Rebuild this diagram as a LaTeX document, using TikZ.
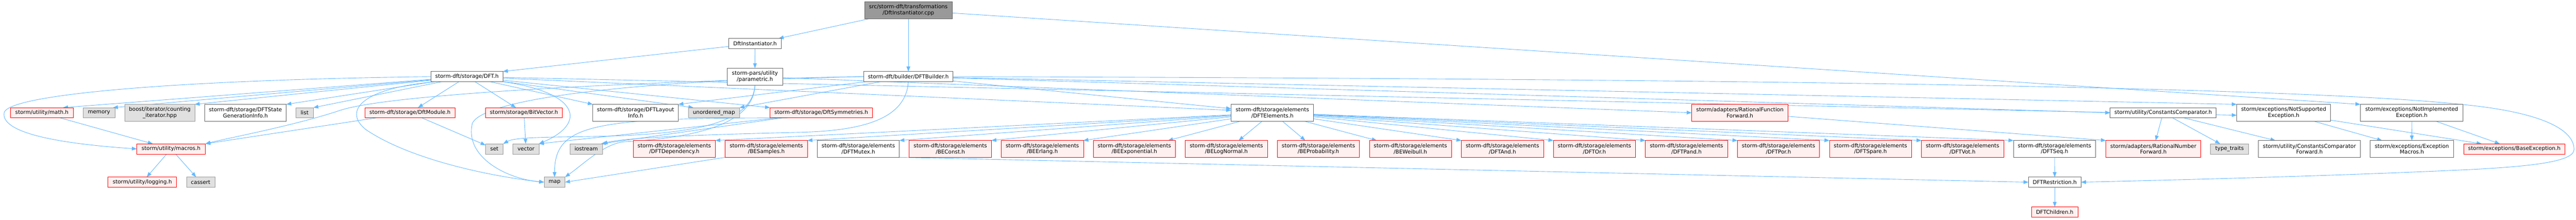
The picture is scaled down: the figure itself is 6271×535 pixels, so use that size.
\documentclass[tikz,border=0pt]{standalone}
\usepackage{fontspec}
\newfontfamily\dvs{DejaVu Sans}
\usetikzlibrary{arrows.meta}
\definecolor{edgec}{HTML}{63B8FF}
\definecolor{rfill}{HTML}{FFF0F0}
\definecolor{gfill}{HTML}{E0E0E0}
\definecolor{gdraw}{HTML}{999999}
\definecolor{wdraw}{HTML}{666666}
\definecolor{rootfill}{HTML}{999999}
\pgfdeclarelayer{bg}
\pgfsetlayers{bg,main}
\begin{document}
\begin{tikzpicture}[x=1pt,y=-1pt,
  box/.style={inner sep=0pt, outer sep=0pt, line width=1pt, align=center,
    font=\dvs\fontsize{13pt}{14.7pt}\selectfont},
  rnode/.style={box, fill=rfill, draw=red},
  gnode/.style={box, fill=gfill, draw=gdraw},
  wnode/.style={box, fill=white, draw=wdraw},
  rootnode/.style={box, fill=rootfill, draw=wdraw},
  one/.style={minimum height=25pt},
  two/.style={minimum height=41pt},
  conn/.style={draw=edgec, line width=1.1pt, -{Triangle[length=12pt,width=9pt]}}
]
\useasboundingbox (0,0) rectangle (6271,535);

% ---------- nodes ----------
\node[rootnode, two, minimum width=213pt] (root) at (2211.3,25) {src/storm-dft/transformations\\/DftInstantiator.cpp};
\node[wnode, one, minimum width=127pt] (dih) at (1838,106) {DftInstantiator.h};
\node[wnode, one, minimum width=175pt] (dft) at (1136.75,186.5) {storm-dft/storage/DFT.h};
\node[wnode, two, minimum width=136pt] (par) at (1837.8,186.5) {storm-pars/utility\\/parametric.h};
\node[wnode, one, minimum width=217pt] (bld) at (2211.3,186.5) {storm-dft/builder/DFTBuilder.h};

\node[rnode, one, minimum width=153pt] (math) at (102,274.5) {storm/utility/math.h};
\node[gnode, one, minimum width=78pt] (mem) at (241,274.5) {memory};
\node[gnode, two, minimum width=170pt] (cit) at (389,274.5) {boost/iterator/counting\\\_iterator.hpp};
\node[wnode, two, minimum width=199pt] (sgi) at (597.5,274.5) {storm-dft/storage/DFTState\\GenerationInfo.h};
\node[gnode, one, minimum width=43pt] (lst) at (741.5,274.5) {list};
\node[rnode, one, minimum width=220pt] (dmod) at (998,274.5) {storm-dft/storage/DftModule.h};
\node[rnode, one, minimum width=187pt] (bv) at (1275.5,274.5) {storm/storage/BitVector.h};
\node[wnode, two, minimum width=208.5pt] (lay) at (1547.25,274.5) {storm-dft/storage/DFTLayout\\Info.h};
\node[gnode, one, minimum width=124pt] (umap) at (1738,274.5) {unordered\_map};
\node[rnode, one, minimum width=249.5pt] (sym) at (1999.25,274.5) {storm-dft/storage/DftSymmetries.h};
\node[wnode, two, minimum width=201pt] (elem) at (3097.5,274.5) {storm-dft/storage/elements\\/DFTElements.h};
\node[rnode, two, minimum width=235pt] (rff) at (4235.5,274.5) {storm/adapters/RationalFunction\\Forward.h};
\node[wnode, one, minimum width=258pt] (cc) at (5266,274.5) {storm/utility/ConstantsComparator.h};
\node[wnode, two, minimum width=228.6pt] (nsup) at (5559.3,274.5) {storm/exceptions/NotSupported\\Exception.h};
\node[wnode, two, minimum width=250pt] (nimp) at (5871,274.5) {storm/exceptions/NotImplemented\\Exception.h};

\node[rnode, one, minimum width=167pt] (mac) at (416.5,362.5) {storm/utility/macros.h};
\node[gnode, one, minimum width=43pt] (nset) at (1203.5,362.5) {set};
\node[gnode, one, minimum width=63pt] (vec) at (1280.5,362.5) {vector};
\node[gnode, one, minimum width=80pt] (ios) at (1427,362.5) {iostream};
\foreach \nm/\xx/\lab in {dep/1641.5/DFTDependency, bes/1865.5/BESamples, bec/2313.5/BEConst,
  ber/2537.5/BEErlang, bex/2761.5/BEExponential, bln/2985.5/BELogNormal, bpr/3209.5/BEProbability,
  bwe/3433.5/BEWeibull, dand/3657.5/DFTAnd, dor/3881.5/DFTOr, dpand/4105.5/DFTPand,
  dpor/4329.5/DFTPor, dspa/4553.5/DFTSpare, dvot/4777.5/DFTVot}
  {\node[rnode, two, minimum width=200pt] (\nm) at (\xx,362.5) {storm-dft/storage/elements\\/\lab.h};}
\node[wnode, two, minimum width=200pt] (mtx) at (2089.5,362.5) {storm-dft/storage/elements\\/DFTMutex.h};
\node[wnode, two, minimum width=200pt] (dseq) at (5001.5,362.5) {storm-dft/storage/elements\\/DFTSeq.h};
\node[rnode, two, minimum width=231pt] (rnf) at (5242,362.5) {storm/adapters/RationalNumber\\Forward.h};
\node[gnode, one, minimum width=92pt] (tt) at (5427.5,362.5) {type\_traits};
\node[wnode, two, minimum width=248pt] (ccf) at (5622,362.5) {storm/utility/ConstantsComparator\\Forward.h};
\node[wnode, two, minimum width=203pt] (exm) at (5871.5,362.5) {storm/exceptions/Exception\\Macros.h};
\node[rnode, one, minimum width=246.5pt] (bexc) at (6120.75,362.5) {storm/exceptions/BaseException.h};

\node[rnode, one, minimum width=167pt] (nlog) at (346.5,443.5) {storm/utility/logging.h};
\node[gnode, one, minimum width=69pt] (cas) at (488.5,443.5) {cassert};
\node[gnode, one, minimum width=51pt] (nmap) at (1350,443.5) {map};
\node[wnode, one, minimum width=128pt] (rst) at (5002,443.5) {DFTRestriction.h};
\node[rnode, one, minimum width=112pt] (chi) at (5002,516) {DFTChildren.h};

% ---------- edges ----------
\begin{pgfonlayer}{bg}
\fill[white] (0,0) rectangle (6271,535);
% root
\draw[conn] (root) -- (dih);
\draw[conn] (root) -- (bld);
\draw[conn] (root) -- (nimp.north west);
% DftInstantiator.h
\draw[conn] (dih) -- (dft.north east);
\draw[conn] (dih) -- (par);
% parametric
\draw[conn] (par) -- (rff.west);
\draw[conn] (par.south) .. controls (1835,300) and (1700,335) .. (1520,345) .. controls (1470,350) and (1420,400) .. (nmap.north east);
\draw[conn] (par.south) .. controls (1832,312) and (1650,330) .. (1400,333) .. controls (1300,334) and (1250,336) .. (nset.north east);
% DFT.h
\draw[conn] (dft) -- ([xshift=-25pt]math.north east);
\draw[conn] (dft) -- ([xshift=-5pt]mem.north east);
\draw[conn] (dft) -- (cit.north east);
\draw[conn] (dft) -- (sgi.north east);
\draw[conn] (dft) -- (lst.north east);
\draw[conn] (dft) -- (dmod);
\draw[conn] (dft) -- (bv);
\draw[conn] (dft) -- (lay.north west);
\draw[conn] (dft) -- ([xshift=12pt]umap.north west);
\draw[conn] (dft) -- (sym.north west);
\draw[conn] (dft) -- ([yshift=6pt]elem.west);
\draw[conn] (dft) -- ([yshift=-6pt]nsup.west);
\draw[conn] (dft.west) .. controls (400,195) and (15,232) .. (10,275) .. controls (2,330) and (180,352) .. (mac.west);
\draw[conn] ([xshift=10pt]dft.south west) .. controls (880,215) and (835,270) .. (890,315) .. controls (1000,390) and (1200,430) .. (nmap.west);
\draw[conn] (dft.south east) .. controls (1410,225) and (1430,300) .. (vec.north east);
% DFTBuilder.h
\draw[conn] (bld) -- (lay.north east);
\draw[conn] (bld) -- (umap.north east);
\draw[conn] (bld) -- ([yshift=10pt]elem.west);
\draw[conn] (bld) -- (cc.west);
\draw[conn] (bld) -- (nsup.north west);
\draw[conn] (bld.west) .. controls (1600,193) and (1180,235) .. (1150,300) .. controls (1130,380) and (1230,435) .. (nmap.west);
\draw[conn] (bld.south) .. controls (2205,290) and (2100,318) .. (1950,322) .. controls (1700,328) and (1520,335) .. (ios.north east);
\draw[conn] (bld.west) .. controls (1500,200) and (950,230) .. (830,268) .. controls (720,305) and (560,335) .. (mac.north east);
\draw[conn] (bld.east) .. controls (3500,190) and (5500,200) .. (6000,255) .. controls (6200,275) and (6268,320) .. (6266,365) .. controls (6264,395) and (6150,405) .. (6028,412) .. controls (5700,428) and (5300,438) .. (rst.east);
% DftSymmetries
\draw[conn] ([xshift=-83pt]sym.south) .. controls (1450,287) and (1350,300) .. (nmap.north);
\draw[conn] ([xshift=-105pt]sym.south) -- (vec.north east);
\draw[conn] ([xshift=-95pt]sym.south) -- ([xshift=-4pt]ios.north east);
% DftModule, BitVector, math, macros
\draw[conn] (dmod) -- (nset);
\draw[conn] (dmod) -- (mac.north east);
\draw[conn] (bv) -- (vec);
\draw[conn] (math) -- (mac);
\draw[conn] (mac) -- (nlog);
\draw[conn] (mac) -- (cas);
% DFTElements fan
\foreach \t in {dep,bes,mtx,bec,ber} {\draw[conn] (elem) -- (\t.north east);}
\draw[conn] (elem) -- ([xshift=-18pt]bex.north east);
\draw[conn] (elem) -- ([xshift=30pt]bln.north);
\draw[conn] (elem) -- ([xshift=-32pt]bpr.north);
\draw[conn] (elem) -- ([xshift=18pt]bwe.north west);
\foreach \t in {dand,dor,dpand,dpor,dspa,dvot,dseq} {\draw[conn] (elem) -- (\t.north west);}
% elements
\draw[conn] (bes.south west) -- (nmap.east);
\draw[conn] (mtx.south east) -- (rst.west);
\draw[conn] (dseq) -- (rst);
\draw[conn] (rst) -- (chi);
% adapters, utility, exceptions
\draw[conn] (rff) -- (rnf.north west);
\draw[conn] (cc) -- (rnf);
\draw[conn] (cc) -- (tt);
\draw[conn] (cc) -- (ccf);
\draw[conn] (nsup) -- (exm);
\draw[conn] (nsup) -- (bexc);
\draw[conn] (nimp) -- (exm);
\draw[conn] (nimp) -- (bexc);
\end{pgfonlayer}
\end{tikzpicture}
\end{document}
